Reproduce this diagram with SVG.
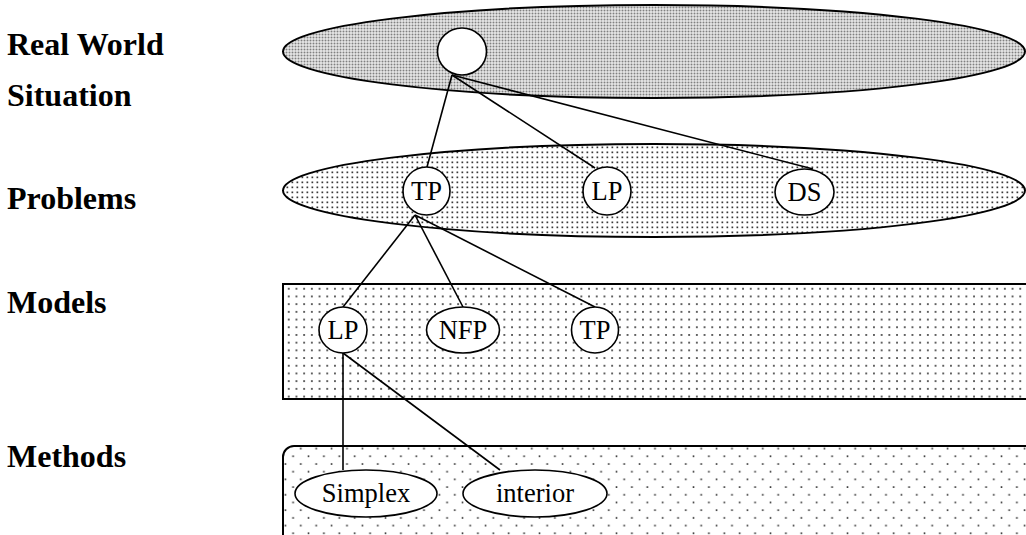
<svg xmlns="http://www.w3.org/2000/svg" width="1026" height="535" viewBox="0 0 1026 535">
  <defs>
    <!-- dense dot screen for the top layer -->
    <pattern id="dotsDense" width="3" height="3" patternUnits="userSpaceOnUse">
      <rect width="3" height="3" fill="#ffffff"/>
      <rect x="0.5" y="0.5" width="2" height="2" fill="#808080"/>
    </pattern>
    <!-- medium dot screen -->
    <pattern id="dotsMedium" width="5" height="5" patternUnits="userSpaceOnUse">
      <rect width="5" height="5" fill="#ffffff"/>
      <rect x="1.5" y="1.5" width="1.7" height="1.7" fill="#3a3a3a"/>
    </pattern>
    <!-- light dot screen -->
    <pattern id="dotsLight" width="7.7" height="7.7" patternUnits="userSpaceOnUse">
      <rect width="7.7" height="7.7" fill="#ffffff"/>
      <rect x="3" y="3" width="1.7" height="1.7" fill="#333333"/>
    </pattern>
    <!-- sparse staggered dot screen -->
    <pattern id="dotsSparse" width="15.4" height="15.4" patternUnits="userSpaceOnUse">
      <rect width="15.4" height="15.4" fill="#ffffff"/>
      <rect x="7.4" y="1.2" width="1.6" height="1.6" fill="#2a2a2a"/>
      <rect x="-0.3" y="8.9" width="1.6" height="1.6" fill="#2a2a2a"/>
      <rect x="15.1" y="8.9" width="1.6" height="1.6" fill="#2a2a2a"/>
    </pattern>
    <style>
      .label { font-family: "Liberation Serif", "Times New Roman", serif; font-weight: bold; font-size: 32px; fill: #000; }
      .ntext { font-family: "Liberation Serif", "Times New Roman", serif; font-size: 26.5px; fill: #000; text-anchor: middle; }
      .node { fill: #ffffff; stroke: #000; stroke-width: 1.6; }
      .layer { stroke: #000; stroke-width: 2; }
      .conn line { stroke: #000; stroke-width: 1.6; }
    </style>
  </defs>

  <rect width="1026" height="535" fill="#ffffff"/>

  <!-- layer labels -->
  <g id="labels">
    <text class="label" x="7" y="55">Real World</text>
    <text class="label" x="7" y="106">Situation</text>
    <text class="label" x="7" y="209">Problems</text>
    <text class="label" x="7" y="313">Models</text>
    <text class="label" x="7" y="467">Methods</text>
  </g>

  <!-- layer backgrounds -->
  <g id="layer-real-world">
    <ellipse class="layer" cx="654" cy="51.5" rx="371" ry="46.5" fill="url(#dotsDense)"/>
  </g>
  <g id="layer-problems">
    <ellipse class="layer" cx="654" cy="190.5" rx="371" ry="46.5" fill="url(#dotsMedium)"/>
  </g>
  <g id="layer-models">
    <rect class="layer" x="283" y="284" width="760" height="115" fill="url(#dotsLight)" stroke-width="2.4"/>
  </g>
  <g id="layer-methods">
    <rect class="layer" x="283" y="446" width="760" height="110" rx="11" ry="11" fill="url(#dotsSparse)"/>
  </g>

  <!-- connectors -->
  <g id="connectors" class="conn">
    <line x1="452" y1="75" x2="427" y2="167"/>
    <line x1="452" y1="75" x2="595" y2="168"/>
    <line x1="452" y1="75" x2="813" y2="169"/>
    <line x1="415" y1="215" x2="343" y2="307"/>
    <line x1="415" y1="215" x2="463" y2="307"/>
    <line x1="415" y1="215" x2="595" y2="307"/>
    <line x1="343" y1="353" x2="343" y2="470"/>
    <line x1="343" y1="353" x2="500" y2="470"/>
  </g>

  <!-- nodes -->
  <g id="node-situation">
    <ellipse class="node" cx="462" cy="51.5" rx="24.5" ry="23.5"/>
  </g>
  <g id="node-problem-tp">
    <ellipse class="node" cx="426.5" cy="191" rx="23.5" ry="24"/>
    <text class="ntext" x="426.5" y="200">TP</text>
  </g>
  <g id="node-problem-lp">
    <ellipse class="node" cx="607" cy="191" rx="24" ry="24"/>
    <text class="ntext" x="607" y="200">LP</text>
  </g>
  <g id="node-problem-ds">
    <ellipse class="node" cx="804.5" cy="192" rx="29.5" ry="23"/>
    <text class="ntext" x="804.5" y="201">DS</text>
  </g>
  <g id="node-model-lp">
    <ellipse class="node" cx="343" cy="330" rx="24" ry="23"/>
    <text class="ntext" x="343" y="339">LP</text>
  </g>
  <g id="node-model-nfp">
    <ellipse class="node" cx="463" cy="330" rx="36.5" ry="23"/>
    <text class="ntext" x="463" y="339">NFP</text>
  </g>
  <g id="node-model-tp">
    <ellipse class="node" cx="595" cy="330" rx="23.5" ry="23"/>
    <text class="ntext" x="595" y="339">TP</text>
  </g>
  <g id="node-method-simplex">
    <ellipse class="node" cx="366" cy="493.5" rx="71" ry="23.5"/>
    <text class="ntext" x="366" y="502">Simplex</text>
  </g>
  <g id="node-method-interior">
    <ellipse class="node" cx="535" cy="493.5" rx="72" ry="23.5"/>
    <text class="ntext" x="535" y="502">interior</text>
  </g>
</svg>
